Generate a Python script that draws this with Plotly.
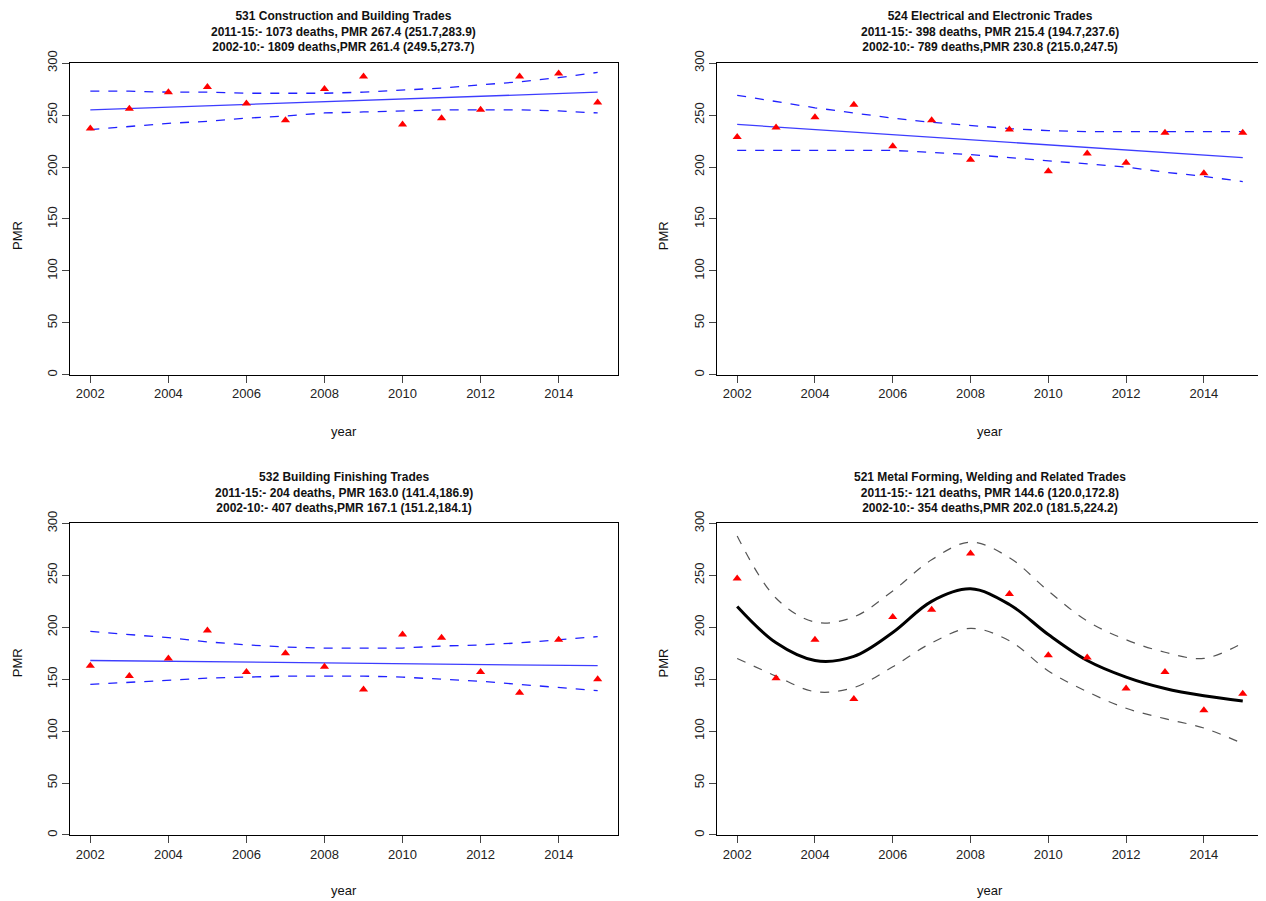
import plotly.graph_objects as go

years = list(range(2002, 2016))

titles = [
    "531 Construction and Building Trades<br>2011-15:- 1073 deaths, PMR 267.4 (251.7,283.9)<br>2002-10:- 1809 deaths,PMR 261.4 (249.5,273.7)",
    "524 Electrical and Electronic Trades<br>2011-15:- 398 deaths, PMR 215.4 (194.7,237.6)<br>2002-10:- 789 deaths,PMR 230.8 (215.0,247.5)",
    "532 Building Finishing Trades<br>2011-15:- 204 deaths, PMR 163.0 (141.4,186.9)<br>2002-10:- 407 deaths,PMR 167.1 (151.2,184.1)",
    "521 Metal Forming, Welding and Related Trades<br>2011-15:- 121 deaths, PMR 144.6 (120.0,172.8)<br>2002-10:- 354 deaths,PMR 202.0 (181.5,224.2)",
]

pmr_531 = [237, 256, 272, 277, 261, 245, 275, 287, 241, 247, 255, 287, 290, 262]
fit_531 = [255, 256.3, 257.6, 258.9, 260.2, 261.5, 262.8, 264.1, 265.4, 266.7, 268, 269.3, 270.6, 272]
up_531 = [273, 273, 272, 272, 271, 271, 271, 272, 274, 276, 279, 282, 286, 291]
lo_531 = [236, 239, 242, 244, 247, 249, 252, 253, 254, 255, 255, 255, 254, 252]

pmr_524 = [229, 238, 248, 260, 220, 245, 207, 236, 196, 213, 204, 233, 194, 233]
fit_524 = [241, 238.5, 236, 233.6, 231.1, 228.7, 226.2, 223.8, 221.3, 218.9, 216.4, 214, 211.5, 209]
up_524 = [269, 263, 257, 252, 247, 243, 240, 237, 235, 234, 234, 234, 234, 234]
lo_524 = [216, 216, 216, 216, 216, 214, 212, 209, 206, 203, 200, 195, 191, 186]

pmr_532 = [163, 153, 170, 197, 157, 175, 162, 140, 193, 190, 157, 137, 188, 150]
fit_532 = [168, 167.6, 167.2, 166.8, 166.5, 166.1, 165.7, 165.3, 164.9, 164.5, 164.2, 163.8, 163.4, 163]
up_532 = [196, 193, 190, 186, 183, 181, 180, 180, 180, 182, 183, 185, 188, 191]
lo_532 = [145, 147, 149, 151, 152, 153, 153, 153, 152, 150, 148, 145, 142, 139]

pmr_521 = [247, 151, 188, 131, 210, 217, 271, 232, 173, 171, 141, 157, 120, 136]
fit_521 = [220, 185, 168, 172, 195, 225, 237, 222, 193, 168, 152, 141, 134, 129]
up_521 = [288, 228, 205, 210, 235, 265, 282, 267, 235, 206, 188, 176, 170, 185]
lo_521 = [170, 153, 138, 142, 162, 185, 199, 187, 158, 138, 122, 112, 103, 88]

panels = [
    (pmr_531, fit_531, up_531, lo_531, "linear"),
    (pmr_524, fit_524, up_524, lo_524, "linear"),
    (pmr_532, fit_532, up_532, lo_532, "linear"),
    (pmr_521, fit_521, up_521, lo_521, "spline"),
]

xdoms = [[0.0490, 0.4818], [0.5600, 0.9913]]
ydoms = [[0.6006, 0.9525], [0.0813, 0.4329]]
year_y = [0.537, 0.019]
pmr_x = [0.0, 0.518]

font = "Liberation Sans, Arial, sans-serif"
fig = go.Figure()
for i, (pts, fit, up, lo, shape) in enumerate(panels):
    n = i + 1
    xa, ya = ("x", "y") if n == 1 else (f"x{n}", f"y{n}")
    if shape == "linear":
        fitline = dict(color="rgba(40,40,255,0.9)", width=1.3)
        band = dict(color="rgba(20,20,255,0.95)", width=1.3, dash="dash")
    else:
        fitline = dict(color="black", width=3, shape="spline")
        band = dict(color="#555555", width=1.2, dash="dash", shape="spline")
    fig.add_trace(go.Scatter(x=years, y=fit, mode="lines", line=fitline, xaxis=xa, yaxis=ya))
    fig.add_trace(go.Scatter(x=years, y=up, mode="lines", line=band, xaxis=xa, yaxis=ya))
    fig.add_trace(go.Scatter(x=years, y=lo, mode="lines", line=band, xaxis=xa, yaxis=ya))
    fig.add_trace(go.Scatter(x=years, y=pts, mode="markers", cliponaxis=False,
                             marker=dict(symbol="triangle-up", color="red", size=8),
                             xaxis=xa, yaxis=ya))
    xd = xdoms[i % 2]
    yd = ydoms[i // 2]
    ax = dict(domain=xd, range=[2001.48, 2015.52], tickvals=list(range(2002, 2016, 2)),
              showline=True, mirror=True, linecolor="black", linewidth=1, ticks="outside",
              ticklen=7, showgrid=False, zeroline=False, anchor=ya,
              tickfont=dict(family=font, size=13, color="#222"))
    ay = dict(domain=yd, range=[0, 300], tickvals=list(range(0, 301, 50)),
              showline=True, mirror=True, linecolor="black", linewidth=1, ticks="outside",
              ticklen=7, showgrid=False, zeroline=False, anchor=xa, tickangle=-90,
              tickfont=dict(family=font, size=13, color="#222"))
    fig.update_layout(**{("xaxis" if n == 1 else f"xaxis{n}"): ax,
                         ("yaxis" if n == 1 else f"yaxis{n}"): ay})
    cx = (xd[0] + xd[1]) / 2
    fig.add_annotation(text="<b>" + titles[i] + "</b>", x=cx, y=yd[1] + 0.0077, xref="paper",
                       yref="paper", xanchor="center", yanchor="bottom", showarrow=False,
                       font=dict(family=font, size=12, color="#111"))
    fig.add_annotation(text="year", x=cx, y=year_y[i // 2], xref="paper", yref="paper",
                       xanchor="center", yanchor="middle", showarrow=False,
                       font=dict(family=font, size=13, color="#111"))
    fig.add_annotation(text="PMR", x=pmr_x[i % 2], y=(yd[0] + yd[1]) / 2, xref="paper",
                       yref="paper", textangle=-90, showarrow=False,
                       font=dict(family=font, size=13, color="#111"))

fig.update_layout(width=1266, height=901, margin=dict(l=0, r=0, t=0, b=0),
                  plot_bgcolor="white", paper_bgcolor="white", showlegend=False)
fig.write_html("out.html")
